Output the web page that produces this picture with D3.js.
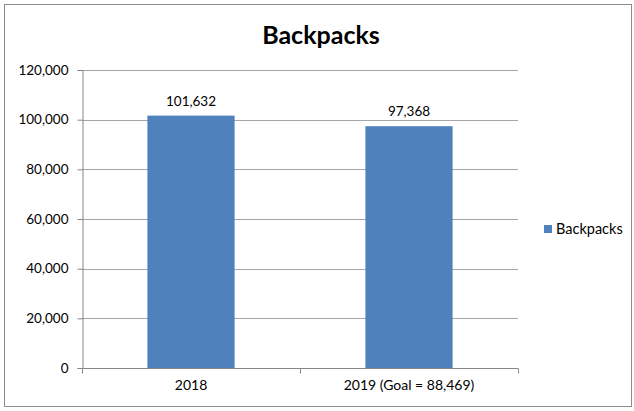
<!DOCTYPE html>
<html>
<head>
<meta charset="utf-8">
<script src="https://cdn.jsdelivr.net/npm/d3@7"></script>
<style>
  body { margin: 0; background: #fff; }
  text { font-family: Lato, "Open Sans", sans-serif; fill: #000; }
</style>
</head>
<body>
<div id="chart"></div>
<script>
var categories = ["2018", "2019 (Goal = 88,469)"];
var values = [101632, 97368];
var yTicks = [0, 20000, 40000, 60000, 80000, 100000, 120000];
var seriesName = "Backpacks";

var W = 634, H = 411;
var margin = {top: 70, left: 82, right: 116, bottom: 43};
var width = W - margin.left - margin.right,
    height = H - margin.top - margin.bottom;

var svg = d3.select("#chart").append("svg")
    .attr("width", W)
    .attr("height", H);

// outer frame
svg.append("rect")
    .attr("x", 4.5).attr("y", 4.5)
    .attr("width", 627).attr("height", 402)
    .attr("fill", "#fff")
    .attr("stroke", "#8c8c8c");

svg.append("text")
    .attr("x", 321).attr("y", 44)
    .attr("text-anchor", "middle")
    .style("font-size", "25px")
    .style("font-weight", "bold")
    .text(seriesName);

var g = svg.append("g")
    .attr("transform", "translate(" + margin.left + "," + margin.top + ")");

var xScale = d3.scaleBand()
    .domain(categories)
    .range([0, width])
    .paddingInner(0.6)
    .paddingOuter(0.3);

var yScale = d3.scaleLinear()
    .domain([0, 120000])
    .range([height, 0]);

// gridlines
g.selectAll(".grid")
    .data(yTicks.filter(function(d) { return d > 0; }))
    .enter().append("line")
    .attr("class", "grid")
    .attr("x1", 0).attr("x2", width)
    .attr("y1", function(d) { return Math.round(yScale(d)) + 0.5; })
    .attr("y2", function(d) { return Math.round(yScale(d)) + 0.5; })
    .attr("stroke", "#a6a6a6");

g.selectAll(".bars")
    .data(values)
    .enter().append("rect")
    .attr("class", "bars")
    .attr("x", function(d, i) { return xScale(categories[i]); })
    .attr("y", function(d) { return yScale(d); })
    .attr("width", xScale.bandwidth())
    .attr("height", function(d) { return height - yScale(d); })
    .attr("fill", "#4f81bd");

var fmt = d3.format(",");
g.selectAll(".vlabel")
    .data(values)
    .enter().append("text")
    .attr("class", "vlabel")
    .attr("x", function(d, i) { return xScale(categories[i]) + xScale.bandwidth() / 2; })
    .attr("y", function(d) { return yScale(d) - 10; })
    .attr("text-anchor", "middle")
    .style("font-size", "13.5px")
    .text(function(d) { return fmt(d); });

// y axis
var yAxis = g.append("g")
    .attr("transform", "translate(0.5,0)")
    .call(d3.axisLeft(yScale).tickValues(yTicks).tickSize(5).tickPadding(9)
      .tickFormat(function(d) { return d === 0 ? "0" : fmt(d); }));
yAxis.select(".domain").attr("stroke", "#868686");
yAxis.selectAll(".tick line").attr("stroke", "#868686");
yAxis.selectAll("text").style("font-size", "13.5px").attr("fill", "#000");

// x axis
var xAxis = g.append("g")
    .attr("transform", "translate(0," + (height + 0.5) + ")")
    .call(d3.axisBottom(xScale).tickSize(0).tickPadding(12));
xAxis.select(".domain").attr("stroke", "#868686").attr("d", "M0,0H" + width);
xAxis.selectAll("text").style("font-size", "14px").attr("fill", "#000");

// category boundary ticks
var bounds = d3.range(categories.length + 1).map(function(i) { return i * width / categories.length; });
xAxis.selectAll(".btick")
    .data(bounds)
    .enter().append("line")
    .attr("class", "btick")
    .attr("x1", function(d) { return Math.round(d) + 0.5; })
    .attr("x2", function(d) { return Math.round(d) + 0.5; })
    .attr("y1", 0).attr("y2", 5)
    .attr("stroke", "#868686");

// legend
var legend = svg.append("g").attr("transform", "translate(544,225)");
legend.append("rect")
    .attr("width", 8).attr("height", 8)
    .attr("fill", "#4f81bd");
legend.append("text")
    .attr("x", 12).attr("y", 9)
    .style("font-size", "14.5px")
    .text(seriesName);
</script>
</body>
</html>
